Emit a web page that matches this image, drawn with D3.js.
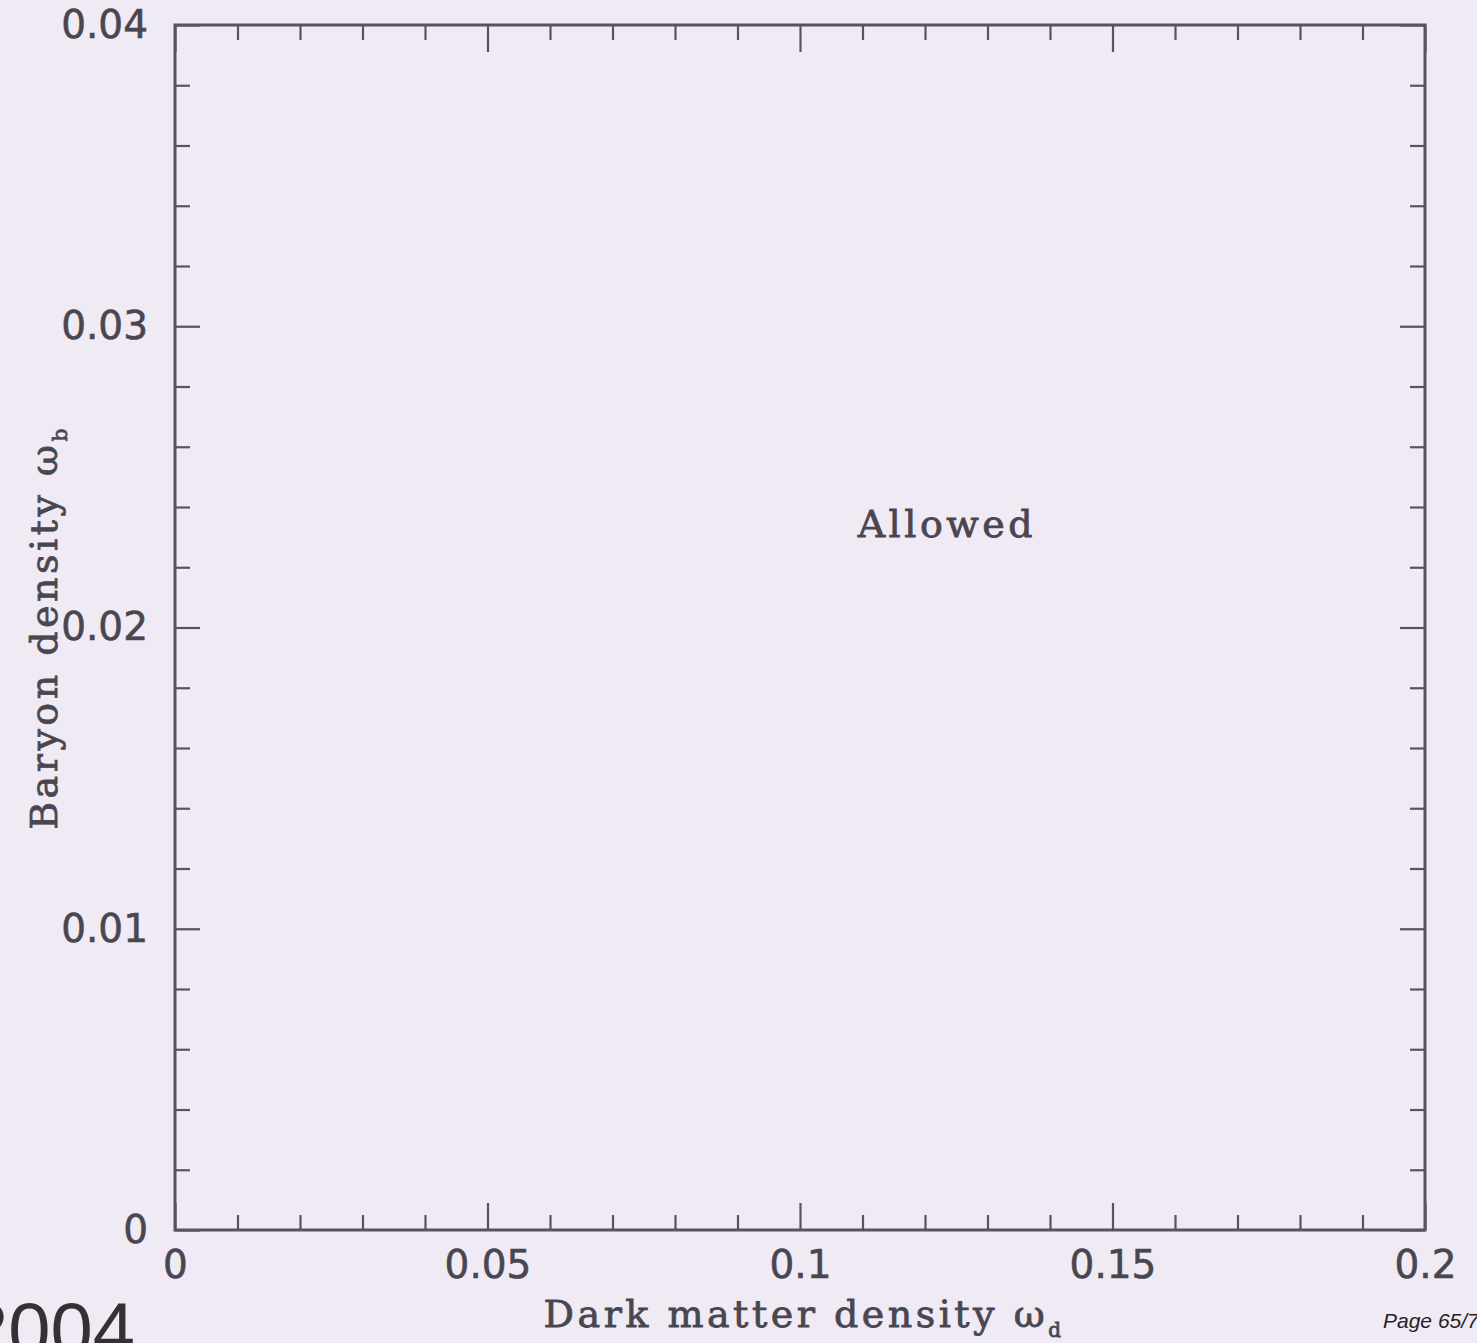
<!DOCTYPE html>
<html>
<head>
<meta charset="utf-8">
<script src="https://cdn.jsdelivr.net/npm/d3@7"></script>
<style>
  html, body { margin: 0; padding: 0; background: #efeaf3; }
  svg { display: block; }
</style>
</head>
<body>
<svg id="chart" width="1477" height="1343"></svg>
<script>
// Axis ranges and labelled ticks
const xDomain = [0, 0.2];
const yDomain = [0, 0.04];
const xMajorTicks = [0, 0.05, 0.1, 0.15, 0.2];
const yMajorTicks = [0, 0.01, 0.02, 0.03, 0.04];
const xTickLabels = ["0", "0.05", "0.1", "0.15", "0.2"];
const yTickLabels = ["0", "0.01", "0.02", "0.03", "0.04"];

// Region annotation
const regionLabels = ["Allowed"];
const regionX = [0.1235];
const regionY = [0.023];

(function draw() {
  const W = 1477, H = 1343;
  const pLeft = 175, pRight = 1425, pTop = 25, pBottom = 1230;
  const ink = "#58535e";
  const textInk = "#4a4650";

  const svg = d3.select("#chart");
  svg.append("rect").attr("width", W).attr("height", H).attr("fill", "#efeaf3");

  const x = d3.scaleLinear().domain(xDomain).range([pLeft, pRight]);
  const y = d3.scaleLinear().domain(yDomain).range([pBottom, pTop]);

  const xMinor = x.ticks(20).filter(v => !xMajorTicks.some(m => Math.abs(m - v) < 1e-9));
  const yMinor = y.ticks(20).filter(v => !yMajorTicks.some(m => Math.abs(m - v) < 1e-9));

  const minorLen = 15, majorLen = 27;

  function styleAxis(g) {
    g.select(".domain").remove();
    g.selectAll(".tick line").attr("stroke", ink).attr("stroke-width", 2.2);
    g.selectAll(".tick text")
      .attr("fill", textInk)
      .style("stroke", textInk).style("stroke-width", 0.6)
      .style("font-family", "'DejaVu Sans', sans-serif")
      .style("font-size", "39px");
  }

  // Bottom axis: labelled majors plus minors, ticks pointing inward
  svg.append("g").attr("transform", `translate(0,${pBottom})`)
    .call(d3.axisBottom(x).tickValues(xMinor).tickSize(-minorLen).tickFormat(""))
    .call(styleAxis);
  svg.append("g").attr("transform", `translate(0,${pBottom})`)
    .call(d3.axisBottom(x).tickValues(xMajorTicks).tickSize(-majorLen).tickPadding(20)
      .tickFormat((d, i) => xTickLabels[i]))
    .call(styleAxis);

  // Top axis: ticks only
  svg.append("g").attr("transform", `translate(0,${pTop})`)
    .call(d3.axisTop(x).tickValues(xMinor).tickSize(-minorLen).tickFormat(""))
    .call(styleAxis);
  svg.append("g").attr("transform", `translate(0,${pTop})`)
    .call(d3.axisTop(x).tickValues(xMajorTicks).tickSize(-majorLen).tickFormat(""))
    .call(styleAxis);

  // Left axis: labelled majors plus minors
  svg.append("g").attr("transform", `translate(${pLeft},0)`)
    .call(d3.axisLeft(y).tickValues(yMinor).tickSize(-minorLen).tickFormat(""))
    .call(styleAxis);
  svg.append("g").attr("transform", `translate(${pLeft},0)`)
    .call(d3.axisLeft(y).tickValues(yMajorTicks).tickSize(-majorLen + 2).tickPadding(27)
      .tickFormat((d, i) => yTickLabels[i]))
    .call(styleAxis);

  // Right axis: ticks only
  svg.append("g").attr("transform", `translate(${pRight},0)`)
    .call(d3.axisRight(y).tickValues(yMinor).tickSize(-minorLen).tickFormat(""))
    .call(styleAxis);
  svg.append("g").attr("transform", `translate(${pRight},0)`)
    .call(d3.axisRight(y).tickValues(yMajorTicks).tickSize(-majorLen + 2).tickFormat(""))
    .call(styleAxis);

  // Plot frame
  svg.append("rect")
    .attr("x", pLeft).attr("y", pTop)
    .attr("width", pRight - pLeft).attr("height", pBottom - pTop)
    .attr("fill", "none").attr("stroke", ink).attr("stroke-width", 3);

  const serifFont = "'DejaVu Serif', 'Liberation Serif', serif";

  function serifText(sel, size) {
    return sel.attr("fill", textInk)
      .style("font-family", serifFont).style("font-size", size + "px")
      .style("letter-spacing", "3.5px")
      .style("stroke", textInk).style("stroke-width", 0.8);
  }

  // Axis titles
  const xt = svg.append("text")
    .attr("x", (pLeft + pRight) / 2 + 4).attr("y", 1327)
    .attr("text-anchor", "middle")
    .call(serifText, 38);
  xt.append("tspan").text("Dark matter density ω");
  xt.append("tspan").attr("dy", 10).style("font-size", "20px").text("d");

  const yt = svg.append("text")
    .attr("transform", `translate(57,${(pTop + pBottom) / 2}) rotate(-90)`)
    .attr("text-anchor", "middle")
    .call(serifText, 38);
  yt.append("tspan").text("Baryon density ω");
  yt.append("tspan").attr("dy", 10).style("font-size", "20px").text("b");

  // Region annotation
  svg.selectAll("text.region").data(regionLabels).join("text")
    .attr("class", "region")
    .attr("x", (d, i) => x(regionX[i]))
    .attr("y", (d, i) => y(regionY[i]))
    .attr("text-anchor", "middle")
    .call(serifText, 38)
    .text(d => d);

  // Slide furniture
  svg.append("text")
    .attr("x", -34).attr("y", 1356)
    .attr("fill", "#333036")
    .style("font-family", "'Liberation Sans', Arial, sans-serif")
    .style("font-size", "76px")
    .text("2004");

  svg.append("text")
    .attr("x", 1383).attr("y", 1328)
    .attr("fill", "#222")
    .style("font-family", "'Liberation Sans', Arial, sans-serif")
    .style("font-style", "italic")
    .style("font-size", "21px")
    .text("Page 65/7");
})();
</script>
</body>
</html>
